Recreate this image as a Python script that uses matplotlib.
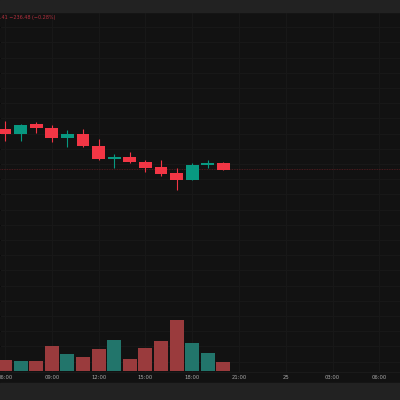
import matplotlib
matplotlib.use("Agg")
import matplotlib.pyplot as plt
import numpy as np

# hourly candles, 06:00 -> 20:00 (hour index, 24 = midnight)
hours = [6, 7, 8, 9, 10, 11, 12, 13, 14, 15, 16, 17, 18, 19, 20]
opens = [84430, 84397, 84460, 84437, 84371, 84397, 84318, 84233, 84246, 84213, 84180, 84141, 84095, 84193, 84207]
highs = [84483, 84460, 84476, 84457, 84424, 84430, 84364, 84266, 84279, 84226, 84226, 84174, 84207, 84226, 84210]
lows = [84351, 84348, 84404, 84345, 84312, 84312, 84226, 84174, 84207, 84147, 84121, 84029, 84095, 84174, 84161]
closes = [84397, 84457, 84437, 84371, 84397, 84318, 84233, 84246, 84213, 84174, 84134, 84095, 84193, 84207, 84161]
volumes = [220, 200, 200, 500, 340, 280, 440, 620, 240, 460, 600, 1020, 560, 360, 180]

tick_hours = [6, 9, 12, 15, 18, 21, 24, 27, 30]
tick_labels = ["06:00", "09:00", "12:00", "15:00", "18:00", "21:00", "25", "03:00", "06:00"]
legend_text = "C84163.41 \u2212236.48 (\u22120.28%)"

UP = "#089981"
DOWN = "#f23645"
UP_VOL = "#22756b"
DOWN_VOL = "#9a3b3d"
BG = "#121212"
BAND = "#222222"
GRID = "#191919"

fig = plt.figure(figsize=(4, 4), dpi=100, facecolor=BG)

# top and bottom bands
fig.patches.append(plt.Rectangle((0, 1 - 12 / 400), 1, 12 / 400, transform=fig.transFigure,
                                 color=BAND, zorder=0))
fig.patches.append(plt.Rectangle((0, 0), 1, 17 / 400, transform=fig.transFigure,
                                 color=BAND, zorder=0))

ax = fig.add_axes([0, 28 / 400, 1, 360 / 400])
ax.set_facecolor(BG)
ax.set_xlim(5.68, 31.32)
ax.set_ylim(82831, 85200)

ax.set_yticks(np.arange(82900, 85201, 100))
ax.set_xticks(tick_hours)
ax.set_xticklabels(tick_labels)
ax.tick_params(axis="x", length=0, pad=2, labelsize=3.8, colors="#a8a8a8")
ax.tick_params(axis="y", left=False, labelleft=False)
ax.grid(True, color=GRID, lw=0.7)
ax.set_axisbelow(True)
for s in ax.spines.values():
    s.set_visible(False)
ax.spines["bottom"].set_visible(True)
ax.spines["bottom"].set_color("#1a1a1a")

# volume on an overlay axis
vax = ax.twinx()
vax.set_ylim(-20, 7180)
vax.axis("off")
vcols = [UP_VOL if c >= o else DOWN_VOL for o, c in zip(opens, closes)]
vax.bar(hours, volumes, width=0.9, color=vcols, zorder=1)

# candles
for h, o, hi, lo, c in zip(hours, opens, highs, lows, closes):
    col = UP if c >= o else DOWN
    ax.vlines(h, lo, hi, color=col, lw=0.8, zorder=3)
    ax.bar(h, abs(c - o), bottom=min(o, c), width=0.82, color=col, zorder=4)

# last price line
ax.axhline(closes[-1] + 6, color=DOWN, lw=0.6, ls=(0, (1, 1)), alpha=0.35, zorder=2)

fig.text(55 / 400, 1 - 18 / 400, legend_text, ha="right", va="center",
         fontsize=3.5, color="#b3303e")

plt.savefig("out.png", dpi=100, facecolor=BG)
